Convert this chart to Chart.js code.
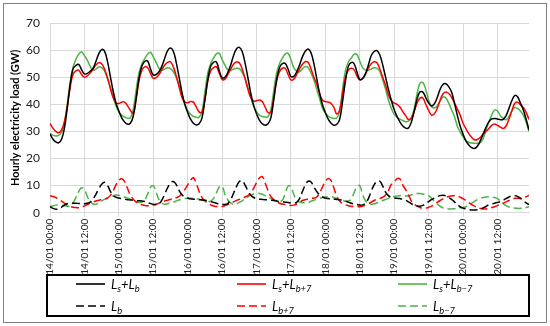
<!DOCTYPE html>
<html>
<head>
<meta charset="utf-8">
<script src="https://cdn.jsdelivr.net/npm/chart.js@4.4.1/dist/chart.umd.min.js"></script>
<style>
  html, body { margin: 0; padding: 0; background: #fff; }
  #wrap { position: relative; width: 550px; height: 326px; overflow: hidden; }
  #frame { position: absolute; left: 3px; top: 3px; width: 542px; height: 318px; border: 1px solid #7f7f7f; }
  #chart { position: absolute; left: 0; top: 0; }
  #legend {
    position: absolute; left: 46px; top: 274px; width: 484px; height: 43px;
    box-sizing: border-box; border: 2px solid #000;
    font-family: Lato, "Liberation Sans", sans-serif; font-style: italic; font-size: 13px; color: #000;
  }
  .item { position: absolute; height: 16px; display: flex; align-items: center; white-space: nowrap; }
  .item svg { margin-right: 6px; }
  sub { font-size: 72%; vertical-align: -3px; line-height: 0; }
</style>
</head>
<body>
<div id="wrap">
  <div id="frame"></div>
  <canvas id="chart" width="550" height="326"></canvas>
  <div id="legend"></div>
</div>
<script>
// hourly categories, 14/01 00:00 .. 20/01 23:00
const hours = Array.from({ length: 168 }, (_, i) => i);
const tickHours = [0, 12, 24, 36, 48, 60, 72, 84, 96, 108, 120, 132, 144, 156];
const tickLabels = [
  "14/01 00:00", "14/01 12:00", "15/01 00:00", "15/01 12:00", "16/01 00:00", "16/01 12:00", "17/01 00:00",
  "17/01 12:00", "18/01 00:00", "18/01 12:00", "19/01 00:00", "19/01 12:00", "20/01 00:00", "20/01 12:00"
];

const lsLb = [
  29, 27.2, 26.1, 25.8, 27, 31, 38.5, 47, 53, 54.3, 54.7, 52.8, 51.2, 51.4, 52.2, 53.3, 55.8, 58.6, 60.2, 59.6, 56, 50.5, 45, 40.5,
  37.5, 35, 33.5, 32.7, 33, 35.5, 42, 49.5, 54, 55.8, 56, 53.2, 50.8, 51, 52, 54, 57, 59.8, 60.8, 59.6, 55.5, 50, 44.5, 40,
  37, 34.5, 33, 32.4, 32.8, 35, 41.5, 49, 54, 55.5, 55.6, 52.5, 49.8, 50, 51.8, 54.5, 58, 60.4, 61, 59.5, 55.3, 49.8, 44, 39.5,
  36.5, 34.2, 32.8, 32.3, 32.8, 35, 41.5, 49, 53.5, 55, 55.1, 53, 50.2, 50.3, 52, 54.5, 57.5, 59.6, 60.4, 59, 55, 49.5, 44, 39.8,
  37, 34.5, 33, 32.3, 32.6, 34.5, 41, 48.5, 54, 55.4, 55, 52, 49.2, 49.5, 51.3, 54.5, 58, 59.5, 59.8, 58.2, 54.5, 50, 45.5, 41.5,
  38, 35.5, 33.5, 32, 31.2, 31.3, 33.5, 37.5, 42, 44.6, 44.5, 42.5, 40.5, 39.4, 40.2, 42.5, 45.5, 47.3, 47.6, 46.5, 44.5, 40.5, 36, 32,
  29, 26.5, 25, 24, 23.7, 24.5, 26.5, 29, 31.5, 33.5, 34.6, 34.8, 34.6, 34.3, 34.4, 35.8, 38.5, 41.3, 43.2, 42.8, 40.5, 38, 34.5, 30.5
];
const lsLbPlus7 = [
  33, 31.2, 30, 29.5, 30.5, 33.5, 39, 46, 51, 52.3, 52.6, 51, 50, 50.5, 51.5, 53, 54.5, 55.3, 55, 53, 50, 46, 42.5, 40.5,
  40.3, 40.8, 40.8, 39.5, 37.8, 36.6, 41.5, 48.5, 52.5, 53.8, 53.6, 51.5, 49.6, 49.8, 51, 52.8, 54.5, 55.5, 55.7, 53.8, 50.5, 46.5, 42.5, 40.8,
  40.6, 41, 40.8, 39, 37.2, 37, 42, 48.5, 52.3, 53.5, 53.9, 51.5, 49.2, 49.3, 51, 53, 54.8, 55.6, 55.3, 53, 49.5, 45.5, 42.5, 41.2,
  41.3, 41.6, 41, 39, 37, 37, 42.5, 48.5, 52, 53.3, 53.3, 51, 49, 49.3, 51, 53, 54.8, 55.7, 55.5, 53, 50, 47.5, 44, 41.5,
  41, 40.8, 40.3, 38.8, 36.4, 38, 44, 50, 52.6, 53.3, 52.8, 50.5, 49, 49.5, 51.2, 53.3, 55, 55.7, 55.3, 53, 50, 47, 43.5, 41.3,
  40.4, 40, 39, 37.3, 35.8, 34.4, 35, 37.5, 40.5, 42.3, 42.3, 40, 37.8, 36, 36.5, 38.5, 41.5, 43.8, 44.5, 44, 42.6, 40.5, 38.3, 36,
  33, 31, 29.2, 27.8, 26.9, 27, 27.8, 29, 30, 31, 32.2, 32.7, 32.2, 31.6, 31.1, 32, 34.5, 37.5, 40.3, 40.8, 39.8, 38.8, 37, 34.4
];
const lsLbMinus7 = [
  29.3, 28.6, 28.3, 28.5, 29.6, 33, 40, 48, 53.5, 56.5, 58.5, 59.3, 58, 56.3, 54, 52.6, 53, 53.8, 53.5, 52.3, 49.5, 46.5, 42.8, 39.5,
  37.2, 36, 35.3, 34.9, 35, 38, 45, 51.5, 54.8, 56.8, 58.5, 59.2, 57.5, 55.5, 53.3, 52.6, 53, 53.5, 53.2, 52, 50, 47, 43.5, 40,
  37.8, 36.3, 35.5, 35.2, 35.2, 37.5, 44.5, 51.5, 55, 57, 58.6, 58.8, 56.5, 54.5, 52.8, 52.6, 53, 53.3, 53.2, 51.8, 49.6, 46, 42.5, 39.5,
  37.3, 36, 35.5, 35.3, 35.4, 38, 45, 51.5, 55, 57, 58.5, 58.8, 56.5, 53.5, 52.2, 52, 53, 53.9, 53.5, 51.5, 49, 45.5, 42, 38.5,
  36.8, 35.6, 35, 34.8, 35, 37.5, 45.5, 52.5, 55.5, 57, 58.4, 58.4, 56, 53.5, 52.6, 52.6, 53, 53.5, 53.3, 52, 49, 45.5, 41.5, 38.5,
  36.3, 35.2, 34.5, 34, 33.6, 33.8, 35, 38.5, 44, 47.8, 48, 45.5, 41.5, 39.2, 38.6, 39.4, 41.2, 42.7, 42.3, 40.5, 38, 35.5, 32, 29.8,
  28, 26.6, 26, 25.7, 25.6, 25.6, 25.8, 27.3, 30.5, 33.5, 36, 37.9, 37.5, 35.8, 34.8, 34.3, 35.5, 37.5, 38.8, 38.5, 37.5, 36, 33.5, 29.9
];
const lb = [
  2.2, 1.6, 1.3, 1.4, 2, 2.8, 3.3, 3.5, 3.5, 3.5, 3.4, 3.3, 3.3, 3.5, 3.9, 5, 6.8, 8.8, 10.5, 11.2, 10.2, 8, 6.3, 5.7,
  5.4, 5.2, 5, 4.8, 4.7, 4.6, 4.5, 4.4, 4.3, 4.1, 3.8, 3.4, 3.1, 3, 3.3, 4.6, 6.9, 9.2, 11, 11.5, 10.4, 8.2, 6.6, 5.8,
  5.4, 5.1, 5, 4.9, 4.8, 4.7, 4.6, 4.4, 4.1, 3.8, 3.5, 3.2, 3.1, 3, 3.4, 4.8, 7.2, 9.6, 11.5, 11.8, 10.2, 8, 6.4, 5.6,
  5.2, 5, 4.9, 4.8, 4.7, 4.6, 4.5, 4.3, 4.1, 4, 3.9, 3.8, 3.6, 3.5, 3.8, 5.2, 7.8, 10.2, 11.6, 11.3, 9.5, 7.8, 6.6, 5.8,
  5.4, 5.2, 5, 5, 4.9, 4.8, 4.6, 4.3, 3.9, 3.5, 3.2, 3, 2.8, 2.9, 3.5, 5.2, 8, 10.3, 11.5, 11.6, 9.8, 7.6, 6.3, 5.6,
  5.4, 5.3, 5.2, 5, 4.6, 4, 3.3, 2.8, 2.5, 2.4, 2.7, 3.4, 4.1, 4.8, 5.4, 5.9, 6.3, 6.4, 6.2, 5.6, 4.9, 4, 3, 2.2,
  1.7, 1.4, 1.2, 1, 1, 1.1, 1.3, 1.8, 2.3, 2.9, 3.2, 3.5, 3.8, 4.1, 4.6, 5.2, 5.8, 6.2, 6.3, 6, 5.3, 4.5, 3.6, 3
];
const lbPlus7 = [
  6.3, 6, 5.6, 5, 4.3, 3.5, 2.8, 2.3, 2, 1.9, 1.8, 2, 2.5, 3, 3.5, 3.9, 4.3, 4.6, 4.9, 5.1, 5.4, 6.3, 8, 10.3,
  11.9, 12.5, 11.5, 9, 6.5, 5, 4, 3.3, 2.9, 2.7, 2.6, 2.6, 2.8, 3.1, 3.5, 3.9, 4.3, 4.6, 4.9, 5.2, 5.5, 6, 7, 8.5,
  10.3, 12, 12.9, 10.8, 7.8, 5.6, 4.4, 3.5, 2.9, 2.5, 2.3, 2.2, 2.3, 2.6, 3, 3.5, 4, 4.5, 4.9, 5.3, 5.8, 6.3, 7.3, 9,
  11, 12.8, 13.3, 11, 8.2, 6, 4.8, 4, 3.5, 3.2, 3, 2.8, 2.7, 2.8, 3.2, 3.8, 4.5, 4.8, 5.1, 5.3, 5.4, 5.8, 7.3, 9.5,
  11.5, 12.6, 11.8, 9, 6, 4.3, 3.4, 2.9, 2.6, 2.4, 2.3, 2.2, 2.2, 2.4, 2.8, 3.3, 3.9, 4.5, 4.9, 5.3, 5.7, 6.5, 8.2, 10.4,
  11.2, 12.6, 12.4, 10.2, 8.5, 6.5, 4.3, 3.1, 2.4, 1.9, 1.6, 1.7, 2, 2.4, 3, 3.8, 4.5, 5.1, 5.6, 6, 6.2, 6.3, 6.2, 5.7,
  5.2, 4.5, 3.7, 3, 2.4, 1.9, 1.6, 1.4, 1.4, 1.6, 1.9, 2.2, 2.6, 3.1, 3.5, 4, 4.5, 5, 5.3, 5.3, 5.3, 5.5, 5.9, 6.4
];
const lbMinus7 = [
  2.2, 2.5, 2.8, 2.9, 2.8, 2.6, 2.4, 2.5, 3.6, 5.5, 7.8, 9.2, 8.6, 6, 4.1, 3.2, 3.1, 3.6, 4.3, 4.9, 5.4, 5.9, 6.3, 6.5,
  6.4, 6.2, 5.8, 5.4, 5, 4.5, 4.1, 3.8, 3.8, 4.6, 6.8, 9.3, 10, 7.5, 4.8, 3.5, 3.1, 3.3, 3.6, 3.9, 4.3, 4.7, 5, 5.2,
  5.3, 5.3, 5.3, 5.2, 5, 4.7, 4.3, 4.1, 4.3, 5.2, 7.2, 9.5, 9.8, 6.8, 4.7, 3.6, 3.1, 3.3, 3.8, 4.4, 5.1, 5.8, 6.5, 6.9,
  7.1, 7.1, 6.8, 6.3, 5.8, 5.3, 4.8, 4.4, 4.1, 4.6, 7, 9.8, 9.6, 6.7, 4.6, 3.9, 3.7, 3.7, 3.8, 4.2, 4.6, 5, 5.3, 5.6,
  5.8, 5.9, 5.9, 5.6, 5.1, 4.7, 4.5, 4.3, 4.3, 5, 7.3, 9.6, 10, 6.5, 4.4, 3.4, 3.1, 3.3, 3.6, 4.1, 4.5, 4.9, 5.3, 5.7,
  6, 6.2, 6.3, 6.3, 6.2, 6.2, 6.6, 6.9, 7.1, 7.1, 6.9, 6.6, 6.3, 5.3, 4.2, 3.2, 2.4, 1.8, 1.5, 1.4, 1.4, 1.5, 1.6, 1.8,
  1.9, 2.2, 2.8, 3.5, 4.2, 4.8, 5.3, 5.6, 5.8, 5.9, 5.8, 5.6, 5.2, 4.4, 3.4, 2.6, 2.1, 1.8, 1.7, 1.6, 1.6, 1.7, 1.9, 2.2
];

const black = "#000000";
const red = "#ff0000";
const green = "#4bb543";
const dash = [8, 4];

const series = [
  { label: "<i>L<sub>s</sub>+L<sub>b</sub></i>", data: lsLb, color: black, dashed: false },
  { label: "<i>L<sub>s</sub>+L<sub>b+7</sub></i>", data: lsLbPlus7, color: red, dashed: false },
  { label: "<i>L<sub>s</sub>+L<sub>b\u22127</sub></i>", data: lsLbMinus7, color: green, dashed: false },
  { label: "<i>L<sub>b</sub></i>", data: lb, color: black, dashed: true },
  { label: "<i>L<sub>b+7</sub></i>", data: lbPlus7, color: red, dashed: true },
  { label: "<i>L<sub>b\u22127</sub></i>", data: lbMinus7, color: green, dashed: true }
];

Chart.defaults.font.family = 'Lato, "Liberation Sans", sans-serif';
Chart.defaults.color = "#222";

const gridColor = "#d9d9d9";

new Chart(document.getElementById("chart"), {
  type: "line",
  data: {
    datasets: series.map(s => ({
      data: s.data.map((v, i) => ({ x: hours[i], y: v })),
      borderColor: s.color,
      borderWidth: 1.5,
      borderDash: s.dashed ? dash : [],
      pointRadius: 0,
      tension: 0.4,
      fill: false
    }))
  },
  options: {
    responsive: false,
    animation: false,
    devicePixelRatio: 1,
    layout: { padding: { left: 0, top: 23, right: 21, bottom: 0 } },
    plugins: { legend: { display: false }, tooltip: { enabled: false } },
    scales: {
      x: {
        type: "linear",
        min: 0,
        max: 167,
        afterBuildTicks: scale => { scale.ticks = tickHours.map(v => ({ value: v })); },
        afterFit: scale => { scale.height = 113.3; },
        grid: { color: gridColor, tickLength: 4, drawTicks: true },
        border: { color: gridColor },
        ticks: {
          autoSkip: false,
          minRotation: 90,
          maxRotation: 90,
          padding: 2,
          font: { size: 10 },
          callback: value => tickLabels[tickHours.indexOf(value)]
        }
      },
      y: {
        min: 0,
        max: 70,
        afterFit: scale => { scale.width = 50; },
        grid: { color: gridColor, drawTicks: false },
        border: { color: gridColor },
        ticks: { stepSize: 10, padding: 10, font: { size: 12 } },
        title: {
          display: true,
          text: "Hourly electricity load (GW)",
          font: { size: 11, weight: "bold" },
          color: "#000",
          padding: { top: 9, bottom: 0 }
        }
      }
    }
  }
});

// legend with subscripts, 3 columns x 2 rows
const legend = document.getElementById("legend");
const colX = [28, 189, 350];
const rowY = [0, 22];
series.forEach((s, i) => {
  const item = document.createElement("div");
  item.className = "item";
  item.style.left = colX[i % 3] + "px";
  item.style.top = rowY[Math.floor(i / 3)] + "px";
  const da = s.dashed ? ' stroke-dasharray="8 4"' : "";
  item.innerHTML = `<svg width="29" height="4"><line x1="0" y1="2" x2="29" y2="2" stroke="${s.color}" stroke-width="1.6"${da}/></svg>` + s.label;
  legend.appendChild(item);
});
</script>
</body>
</html>
